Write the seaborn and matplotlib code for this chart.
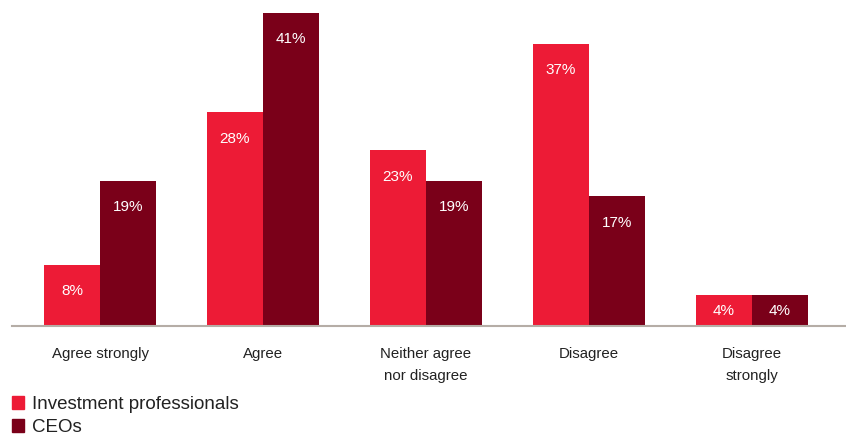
import matplotlib
matplotlib.use("Agg")
import matplotlib.pyplot as plt
import seaborn as sns
import pandas as pd
from matplotlib.patches import Patch

categories = ["Agree strongly", "Agree", "Neither agree\nnor disagree", "Disagree", "Disagree\nstrongly"]
investment_pros = [8, 28, 23, 37, 4]
ceos = [19, 41, 19, 17, 4]
series = ["Investment professionals", "CEOs"]
colors = {"Investment professionals": "#ED1B36", "CEOs": "#7A0019"}

df = pd.DataFrame({
    "category": categories * 2,
    "value": investment_pros + ceos,
    "group": [series[0]] * len(categories) + [series[1]] * len(categories),
})

sns.set_style("white")
plt.rcParams["font.family"] = ["Liberation Sans", "DejaVu Sans"]

fig = plt.figure(figsize=(8.46, 4.37), dpi=100)
ax = fig.add_axes([12 / 846, 111 / 437, 834 / 846, 313 / 437])

sns.barplot(data=df, x="category", y="value", hue="group", palette=colors,
            width=0.69, saturation=1, legend=False, linewidth=0, ax=ax)

ax.set_xlim(-0.54, 4.577)
ax.set_ylim(0, 41)
ax.set_xlabel("")
ax.set_ylabel("")
ax.set_yticks([])
for s in ["top", "left", "right"]:
    ax.spines[s].set_visible(False)
ax.spines["bottom"].set_color("#B5ADA6")
ax.spines["bottom"].set_linewidth(1.5)
ax.tick_params(axis="x", length=0, pad=15, labelsize=10.8, labelcolor="#222222")
for lbl in ax.get_xticklabels():
    lbl.set_linespacing(1.7)
    lbl.set_verticalalignment("top")

px_per_unit = 313 / 41
for cont in ax.containers:
    for bar in cont:
        h = bar.get_height()
        x = bar.get_x() + bar.get_width() / 2
        if h * px_per_unit < 50:
            ax.text(x, h / 2, f"{h:.0f}%", ha="center", va="center",
                    color="white", fontsize=11)
        else:
            ax.annotate(f"{h:.0f}%", (x, h), xytext=(0, -19), textcoords="offset points",
                        ha="center", va="center", color="white", fontsize=11)

handles = [Patch(color=colors[s], label=s) for s in series]
fig.legend(handles=handles, loc="lower left", bbox_to_anchor=(7 / 846, -4 / 437),
           frameon=False, fontsize=13.5, handlelength=0.65, handleheight=0.65,
           handletextpad=0.45, labelspacing=0.32, borderpad=0.15, borderaxespad=0.1,
           labelcolor="#222222")

fig.savefig("out.png", dpi=100)
